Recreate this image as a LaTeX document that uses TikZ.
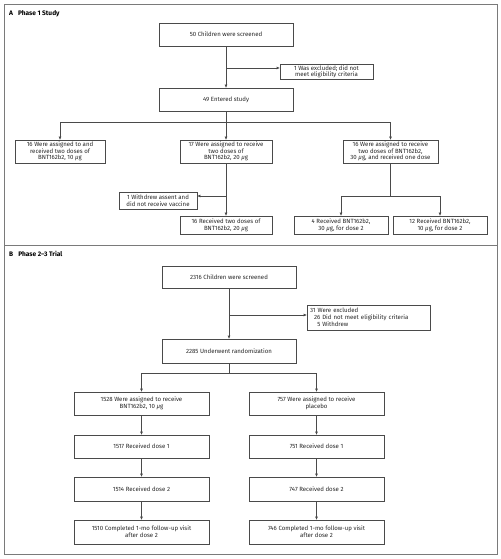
\documentclass[tikz,border=0pt]{standalone}
\usepackage{fontspec}
\setmainfont{Fira Sans}[Numbers=Lining]
\usetikzlibrary{arrows.meta}
\definecolor{ln}{HTML}{4A4A4A}
\definecolor{fr}{HTML}{7A7A7A}
\begin{document}
\begin{tikzpicture}[x=1bp,y=-1bp,
  box/.style={draw=ln, line width=0.6bp, align=center, inner sep=0pt,
    font=\fontsize{6.1}{7}\selectfont, text=black!85},
  tight/.style={font=\fontsize{6.1}{6.3}\selectfont},
  conn/.style={draw=ln, line width=0.6bp},
  arr/.style={conn, -{Triangle[length=3bp,width=2.4bp]}},
  ttl/.style={anchor=west, inner sep=0pt, font=\fontsize{6.6}{7}\selectfont\bfseries}]
\useasboundingbox (0,0) rectangle (501,559);
\draw[fr, line width=0.9bp] (4,4) rectangle (497,554);
\draw[fr, line width=0.9bp] (4,245) -- (497,245);
\node[ttl] (ta) at (9,14) {A\hspace{5bp}Phase 1 Study};
\node[ttl] (tb) at (9,254) {B\hspace{5bp}Phase 2–3 Trial};
% Phase 1
\node[box, minimum width=134bp, minimum height=23bp] (s1) at (226,34.5) {50 Children were screened};
\node[box, tight, minimum width=93bp, minimum height=15bp] (ex1) at (326.5,71.5) {1 Was excluded; did not\\meet eligibility criteria};
\node[box, minimum width=134bp, minimum height=23bp] (e1) at (226,99.5) {49 Entered study};
\node[box, tight, minimum width=90bp, minimum height=23bp] (g1) at (60,151.5) {16 Were assigned to and\\received two doses of\\BNT162b2, 10 \textit{μ}g};
\node[box, tight, minimum width=92bp, minimum height=23bp] (g2) at (226,151.5) {17 Were assigned to receive\\two doses of\\BNT162b2, 20 \textit{μ}g};
\node[box, tight, minimum width=95bp, minimum height=23bp] (g3) at (390.5,151.5) {16 Were assigned to receive\\two doses of BNT162b2,\\30 \textit{μ}g, and received one dose};
\node[box, minimum width=78bp, minimum height=17bp] (w1) at (158,200.5) {1 Withdrew assent and\\did not receive vaccine};
\node[box, minimum width=92bp, minimum height=18bp] (r2) at (226,225) {16 Received two doses of\\BNT162b2, 20 \textit{μ}g};
\node[box, minimum width=94bp, minimum height=18bp] (r3a) at (341,225) {4 Received BNT162b2,\\30 \textit{μ}g, for dose 2};
\node[box, minimum width=94bp, minimum height=18bp] (r3b) at (440,225) {12 Received BNT162b2,\\10 \textit{μ}g, for dose 2};
\coordinate (k1) at (226,68);
\coordinate (k2) at (226,122);
\coordinate (k3) at (226,196);
\coordinate (k4) at (390.5,196);
\draw[arr] (s1.south) -- (e1.north);
\draw[arr] (k1) -- (k1 -| ex1.west);
\draw[conn] (e1.south) -- (k2);
\draw[arr] (k2) -| (g1.north);
\draw[arr] (k2) -- (g2.north);
\draw[arr] (k2) -| (g3.north);
\draw[arr] (g2.south) -- (r2.north);
\draw[arr] (k3) -- (k3 -| w1.east);
\draw[conn] (g3.south) -- (k4);
\draw[arr] (k4) -| (r3a.north);
\draw[arr] (k4) -| (r3b.north);
% Phase 2-3
\node[box, minimum width=134bp, minimum height=22bp] (s2) at (229,277) {2316 Children were screened};
\node[box, minimum width=123bp, minimum height=25bp, align=left, text width=117bp, inner xsep=3bp] (ex2) at (368.5,317.5) {31 Were excluded\\\hspace*{4bp}26 Did not meet eligibility criteria\\\hspace*{7.3bp}5 Withdrew};
\node[box, minimum width=134bp, minimum height=24bp] (rd) at (229,351) {2285 Underwent randomization};
\node[box, minimum width=135bp, minimum height=23bp] (a1) at (141.5,403.5) {1528 Were assigned to receive\\BNT162b2, 10 \textit{μ}g};
\node[box, minimum width=135bp, minimum height=23bp] (a2) at (316.5,403.5) {757 Were assigned to receive\\placebo};
\node[box, minimum width=135bp, minimum height=23bp] (d11) at (141.5,446.5) {1517 Received dose 1};
\node[box, minimum width=135bp, minimum height=23bp] (d12) at (316.5,446.5) {751 Received dose 1};
\node[box, minimum width=135bp, minimum height=24bp] (d21) at (141.5,489) {1514 Received dose 2};
\node[box, minimum width=135bp, minimum height=24bp] (d22) at (316.5,489) {747 Received dose 2};
\node[box, minimum width=135bp, minimum height=24bp] (f1) at (141.5,532) {1510 Completed 1-mo follow-up visit\\after dose 2};
\node[box, minimum width=135bp, minimum height=24bp] (f2) at (316.5,532) {746 Completed 1-mo follow-up visit\\after dose 2};
\coordinate (m1) at (229,315);
\coordinate (m2) at (229,373);
\draw[arr] (s2.south) -- (rd.north);
\draw[arr] (m1) -- (m1 -| ex2.west);
\draw[conn] (rd.south) -- (m2);
\draw[arr] (m2) -| (a1.north);
\draw[arr] (m2) -| (a2.north);
\draw[arr] (a1.south) -- (d11.north);
\draw[arr] (a2.south) -- (d12.north);
\draw[arr] (d11.south) -- (d21.north);
\draw[arr] (d12.south) -- (d22.north);
\draw[arr] (d21.south) -- (f1.north);
\draw[arr] (d22.south) -- (f2.north);
\end{tikzpicture}
\end{document}
